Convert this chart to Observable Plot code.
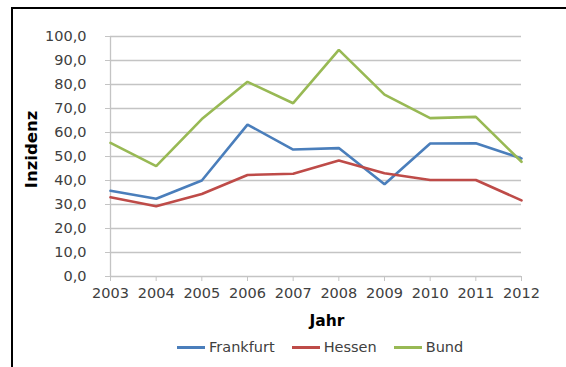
<!DOCTYPE html>
<html><head><meta charset="utf-8">
<script src="https://cdn.jsdelivr.net/npm/d3@7"></script>
<script src="https://cdn.jsdelivr.net/npm/@observablehq/plot@0.6"></script>
<style>
html,body{margin:0;padding:0;background:#fff;}
#wrap{position:relative;width:566px;height:367px;overflow:hidden;font-family:"DejaVu Sans",Verdana,sans-serif;}
#frame{position:absolute;left:11px;top:7px;width:600px;height:400px;border-top:2px solid #000;border-left:2px solid #000;pointer-events:none;}
#chart{position:absolute;left:0;top:0;}
#legend{position:absolute;top:339px;left:177px;display:flex;gap:17px;align-items:center;font-size:14.5px;color:#404040;white-space:nowrap;}
#legend .item{display:flex;align-items:center;}
#legend .sw{width:28px;height:3px;margin-right:4px;}
</style></head>
<body>
<div id="wrap"><div id="chart"></div><div id="legend"></div><div id="frame"></div></div>
<script>
const years = [2003, 2004, 2005, 2006, 2007, 2008, 2009, 2010, 2011, 2012];
const frankfurt = [35.7, 32.4, 40.0, 63.3, 52.9, 53.5, 38.4, 55.4, 55.5, 49.2];
const hessen = [33.0, 29.3, 34.4, 42.3, 42.8, 48.3, 43.0, 40.2, 40.2, 31.7];
const bund = [55.7, 46.0, 65.6, 81.1, 72.2, 94.4, 75.8, 66.0, 66.5, 47.8];
const seriesNames = ["Frankfurt", "Hessen", "Bund"];
const seriesColors = ["#4a7ebb", "#be4b48", "#98b954"];
const yTicks = [0, 10, 20, 30, 40, 50, 60, 70, 80, 90, 100];
const xLabel = "Jahr";
const yLabel = "Inzidenz";

const seriesValues = [frankfurt, hessen, bund];
const rows = [];
seriesNames.forEach((name, i) => years.forEach((yr, j) => rows.push({series: name, year: yr, value: seriesValues[i][j]})));
const fmtY = d => d3.format(".1f")(d).replace(".", ",");

const chart = Plot.plot({
  width: 566,
  height: 367,
  marginLeft: 110,
  marginRight: 45,
  marginTop: 36,
  marginBottom: 91,
  style: {fontFamily: '"DejaVu Sans", Verdana, sans-serif', fontSize: "14.5px", color: "#404040", background: "transparent"},
  x: {domain: [years[0], years[years.length - 1]]},
  y: {domain: [0, 100]},
  color: {domain: seriesNames, range: seriesColors},
  marks: [
    Plot.gridY(yTicks, {stroke: "#c4c4c4", strokeOpacity: 1, strokeWidth: 1.3}),
    Plot.ruleX([years[0]], {stroke: "#c4c4c4", strokeWidth: 1.3}),
    Plot.axisY(yTicks, {tickSize: 5, tickPadding: 19, tickFormat: fmtY, stroke: "#c4c4c4", fill: "#404040",
      label: yLabel, labelAnchor: "center", labelArrow: "none", labelOffset: 85}),
    Plot.axisX(years, {tickSize: 5, tickPadding: 6, tickFormat: "d", stroke: "#c4c4c4", fill: "#404040",
      label: xLabel, labelAnchor: "center", labelArrow: "none", labelOffset: 49}),
    Plot.lineY(rows, {x: "year", y: "value", stroke: "series", strokeWidth: 2.6, strokeLinejoin: "miter"})
  ]
});
document.getElementById("chart").appendChild(chart);
chart.querySelectorAll("g[aria-label='y-axis label'] text").forEach(t => {
  t.setAttribute("fill", "#000"); t.setAttribute("font-weight", "bold"); t.setAttribute("font-size", "16.5px");
  t.setAttribute("transform", "translate(0,-7) " + (t.getAttribute("transform") || ""));
});
chart.querySelectorAll("g[aria-label='x-axis label'] text").forEach(t => {
  t.setAttribute("fill", "#000"); t.setAttribute("font-weight", "bold"); t.setAttribute("font-size", "15.5px");
  t.setAttribute("dx", "11");
});

const legend = document.getElementById("legend");
seriesNames.forEach((name, i) => {
  const it = document.createElement("div"); it.className = "item";
  const sw = document.createElement("div"); sw.className = "sw"; sw.style.background = seriesColors[i];
  const tx = document.createElement("span"); tx.textContent = name;
  it.appendChild(sw); it.appendChild(tx); legend.appendChild(it);
});
</script>
</body></html>
